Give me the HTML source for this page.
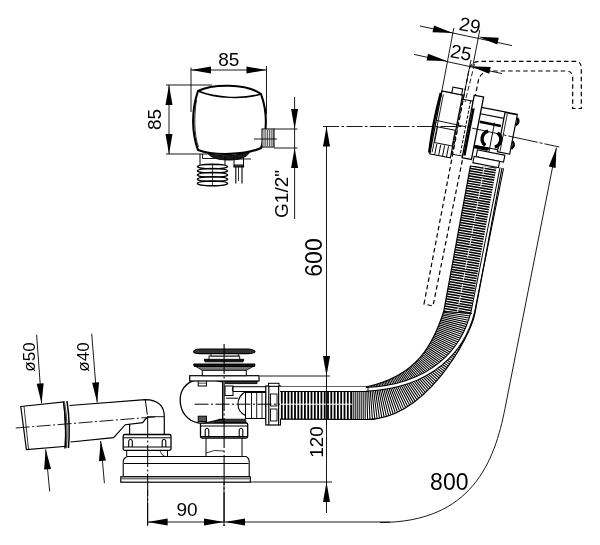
<!DOCTYPE html>
<html><head><meta charset="utf-8"><style>
html,body{margin:0;padding:0;background:#fff;}
svg{display:block;}
text{font-family:"Liberation Sans",sans-serif;fill:#000;stroke:none;-webkit-font-smoothing:antialiased;}
svg{will-change:transform;}
</style></head><body>
<svg width="600" height="545" viewBox="0 0 600 545" stroke="#000" fill="none" stroke-linecap="butt">
<rect x="0" y="0" width="600" height="545" fill="#fff" stroke="none"/>
<line x1="191" y1="67.5" x2="191" y2="112" stroke-width="0.9" />
<line x1="266.5" y1="66" x2="266.5" y2="114" stroke-width="0.9" />
<line x1="191" y1="70" x2="266.5" y2="70" stroke-width="0.9" />
<polygon points="191,70 211,73.5 211,66.5" fill="#000" stroke="none" stroke-width="1" />
<polygon points="266.5,70 246.5,66.5 246.5,73.5" fill="#000" stroke="none" stroke-width="1" />
<text transform="translate(228.7,65.8)" font-size="19" text-anchor="middle" >85</text>
<line x1="166" y1="85" x2="212" y2="85" stroke-width="0.9" />
<line x1="166" y1="154" x2="209" y2="154" stroke-width="0.9" />
<line x1="169" y1="85" x2="169" y2="154" stroke-width="0.9" />
<polygon points="169,85 165.5,105 172.5,105" fill="#000" stroke="none" stroke-width="1" />
<polygon points="169,154 172.5,134 165.5,134" fill="#000" stroke="none" stroke-width="1" />
<text transform="translate(161.4,119.5) rotate(-90)" font-size="19" text-anchor="middle" >85</text>
<path d="M198,91 C212,84 246,83 261,94 C267.5,112 267.5,132 261,148 C246,155 214,156 198,150 C191.5,132 191.5,110 198,91 Z" stroke-width="2.1" fill="#fff" />
<path d="M198,91 C216,98.5 244,99.5 261,94" stroke-width="1.5" fill="none" />
<path d="M196.5,100 C194,115 194,135 198.5,147" stroke-width="0.8" fill="none" />
<path d="M208,153.5 C220,157 238,156.5 250,151.5 C247,158 238,160 229,160 C219,160 211,158 208,153.5 Z" stroke-width="1" fill="#1a1a1a" />
<path d="M236,159 L251,159" stroke-width="0.9" fill="none" />
<line x1="200" y1="154" x2="200" y2="165" stroke-width="1" />
<line x1="225" y1="157" x2="225" y2="165" stroke-width="1" />
<path d="M202.5,154 L202.5,158.5 L215,158.5" stroke-width="0.9" fill="none" />
<path d="M197.5,166.6 Q197.5,164.5 212.5,164.2 Q227.5,164.5 227.5,166.6 Q227.5,168.7 212.5,168.9 Q197.5,168.7 197.5,166.6 Z" stroke-width="1.5" fill="#fff" />
<path d="M197.5,170.8 Q197.5,168.7 212.5,168.4 Q227.5,168.7 227.5,170.8 Q227.5,172.9 212.5,173.1 Q197.5,172.9 197.5,170.8 Z" stroke-width="1.5" fill="#fff" />
<path d="M197.5,175 Q197.5,172.9 212.5,172.6 Q227.5,172.9 227.5,175 Q227.5,177.1 212.5,177.3 Q197.5,177.1 197.5,175 Z" stroke-width="1.5" fill="#fff" />
<path d="M197.5,179.2 Q197.5,177.1 212.5,176.8 Q227.5,177.1 227.5,179.2 Q227.5,181.3 212.5,181.5 Q197.5,181.3 197.5,179.2 Z" stroke-width="1.5" fill="#fff" />
<path d="M197.5,183.4 Q197.5,181.3 212.5,181 Q227.5,181.3 227.5,183.4 Q227.5,185.5 212.5,185.7 Q197.5,185.5 197.5,183.4 Z" stroke-width="1.5" fill="#fff" />
<line x1="212.5" y1="164" x2="212.5" y2="186" stroke-width="0.7" />
<path d="M234,157 L234,165 L243.5,165 L243.5,157" stroke-width="1" fill="none" />
<path d="M234,165 L234,167 L243.5,167 L243.5,165" stroke-width="1.2" fill="#333" />
<line x1="235.8" y1="167" x2="235.8" y2="183.5" stroke-width="1.1" />
<line x1="242" y1="167" x2="242" y2="183.5" stroke-width="1.1" />
<line x1="238.5" y1="167" x2="238.5" y2="181" stroke-width="0.8" />
<rect x="262" y="129" width="12" height="18" fill="#fff" stroke-width="1.1"/>
<line x1="264" y1="130" x2="264" y2="146" stroke-width="0.7" />
<line x1="265.8" y1="130" x2="265.8" y2="146" stroke-width="0.7" />
<line x1="267.6" y1="130" x2="267.6" y2="146" stroke-width="0.7" />
<line x1="269.4" y1="130" x2="269.4" y2="146" stroke-width="0.7" />
<line x1="271.2" y1="130" x2="271.2" y2="146" stroke-width="0.7" />
<line x1="273" y1="130" x2="273" y2="146" stroke-width="0.7" />
<line x1="254" y1="139" x2="277" y2="139" stroke-width="0.9" />
<line x1="274" y1="129" x2="297.5" y2="129" stroke-width="0.9" />
<line x1="274" y1="148" x2="297.5" y2="148" stroke-width="0.9" />
<line x1="294.6" y1="97" x2="294.6" y2="219" stroke-width="0.9" />
<polygon points="294.6,129 298.1,109 291.1,109" fill="#000" stroke="none" stroke-width="1" />
<polygon points="294.6,148 291.1,168 298.1,168" fill="#000" stroke="none" stroke-width="1" />
<text transform="translate(288,194) rotate(-90)" font-size="19" text-anchor="middle" >G1/2&quot;</text>
<line x1="326.5" y1="126.5" x2="326.5" y2="376" stroke-width="0.9" />
<polygon points="326.5,126.5 323,146.5 330,146.5" fill="#000" stroke="none" stroke-width="1" />
<polygon points="326.5,376 330,356 323,356" fill="#000" stroke="none" stroke-width="1" />
<text transform="translate(322,257.5) rotate(-90)" font-size="23" text-anchor="middle" >600</text>
<line x1="260" y1="376" x2="330" y2="376" stroke-width="0.9" />
<line x1="326.5" y1="376" x2="326.5" y2="513" stroke-width="0.9" />
<line x1="250" y1="482" x2="332" y2="482" stroke-width="0.9" />
<polygon points="326.5,482 323,502 330,502" fill="#000" stroke="none" stroke-width="1" />
<text transform="translate(323,442) rotate(-90)" font-size="19" text-anchor="middle" >120</text>
<line x1="147.6" y1="490" x2="147.6" y2="526" stroke-width="0.9" />
<line x1="224" y1="470" x2="224" y2="526" stroke-width="0.9" />
<line x1="147.6" y1="522" x2="390" y2="522" stroke-width="0.9" />
<polygon points="147.6,522 167.6,525.5 167.6,518.5" fill="#000" stroke="none" stroke-width="1" />
<polygon points="224,522 204,518.5 204,525.5" fill="#000" stroke="none" stroke-width="1" />
<polygon points="225,522 245,525.5 245,518.5" fill="#000" stroke="none" stroke-width="1" />
<text transform="translate(187,516)" font-size="19" text-anchor="middle" >90</text>
<path d="M380,522.5 C472.4,522.5 494.7,460.7 505,408.5 L556.4,147.7" stroke-width="0.9" fill="none" />
<polygon points="556.4,147.7 548.79,166.52 555.64,167.99" fill="#000" stroke="none" stroke-width="1" />
<text transform="translate(449.3,489.5)" font-size="23" text-anchor="middle" >800</text>
<line x1="36.6" y1="334.6" x2="41.6" y2="403.4" stroke-width="0.9" />
<polygon points="41.6,403.4 43.64,383.2 36.66,383.71" fill="#000" stroke="none" stroke-width="1" />
<line x1="91.7" y1="333.7" x2="97.2" y2="402.5" stroke-width="0.9" />
<polygon points="97.2,402.5 99.1,382.28 92.12,382.84" fill="#000" stroke="none" stroke-width="1" />
<line x1="45.7" y1="449.3" x2="49.7" y2="491.5" stroke-width="0.9" />
<polygon points="45.7,449.3 44.1,469.54 51.07,468.88" fill="#000" stroke="none" stroke-width="1" />
<line x1="100.7" y1="441" x2="104.4" y2="483.2" stroke-width="0.9" />
<polygon points="100.7,441 98.96,461.23 105.93,460.62" fill="#000" stroke="none" stroke-width="1" />
<text transform="translate(34.8,357) rotate(-90)" font-size="17" text-anchor="middle" >ø50</text>
<text transform="translate(88.9,357) rotate(-90)" font-size="17" text-anchor="middle" >ø40</text>
<path d="M127.5,456.5 L246,456.5 Q249.2,458 249.2,462 L249.2,476.8 L123.2,476.8 L123.2,462 Q123.2,458 127.5,456.5 Z" stroke-width="1.1" fill="#fff" />
<line x1="124" y1="463.5" x2="248.5" y2="463.5" stroke-width="1" />
<rect x="120.8" y="476.8" width="129.5" height="5.4" rx="0" fill="#fff" stroke-width="1.2" />
<line x1="121.5" y1="478.8" x2="249.5" y2="478.8" stroke-width="0.8" />
<path d="M126.7,450 L126.7,456.5 M167.5,450 L167.5,456.5" stroke-width="1" fill="none" />
<path d="M160,451 Q162,456 165,456.5" stroke-width="0.8" fill="none" />
<path d="M206,438 L206,456.5 M242,438 L242,456.5" stroke-width="1" fill="none" />
<path d="M206,453 Q214,449 224,451" stroke-width="0.8" fill="none" />
<rect x="123.2" y="434.5" width="47.8" height="15.8" rx="1.5" fill="#fff" stroke-width="1.3" />
<line x1="123.5" y1="437.8" x2="170.5" y2="437.8" stroke-width="1" />
<line x1="123.5" y1="447" x2="170.5" y2="447" stroke-width="1" />
<path d="M128.7,447 L128.7,441 Q130.5,437.5 132.3,441 L132.3,447" stroke-width="1.1" fill="none" />
<path d="M162.2,447 L162.2,441 Q164,437.5 165.8,441 L165.8,447" stroke-width="1.1" fill="none" />
<rect x="200.5" y="423" width="47.2" height="15" rx="1.5" fill="#fff" stroke-width="1.3" />
<line x1="201" y1="426" x2="247.5" y2="426" stroke-width="1" />
<line x1="201" y1="436.5" x2="247.5" y2="436.5" stroke-width="1" />
<path d="M205.2,436.5 L205.2,430 Q207,426.5 208.8,430 L208.8,436.5" stroke-width="1.1" fill="none" />
<path d="M239.2,436.5 L239.2,430 Q241,426.5 242.8,430 L242.8,436.5" stroke-width="1.1" fill="none" />
<path d="M214.7,419.2 L245.5,419.2 L246,422.5 L214,422.5 Z" stroke-width="0.8" fill="#333" />
<path d="M199,379 C184,382 180,392 180.2,400.5 C180.2,410 186,421 199,423 C208,424 214,421 220,419.5 L222.7,419.5 L222.7,381.5 L220,381.5 C214,379.5 208,378.5 199,379 Z" stroke-width="1.3" fill="#fff" />
<rect x="198.2" y="380.5" width="8.3" height="5.5" rx="0" fill="#fff" stroke-width="1" />
<line x1="198.5" y1="383.2" x2="206.5" y2="383.2" stroke-width="0.7" />
<rect x="198.2" y="416.2" width="8.3" height="5.3" rx="0" fill="#555" stroke-width="1" />
<path d="M225,381 L257,381 L257,383.6 L225,383.6" stroke-width="0.9" fill="#333" />
<rect x="225" y="386" width="8" height="9.5" rx="0" fill="#fff" stroke-width="1" />
<line x1="226" y1="398.2" x2="238" y2="398.2" stroke-width="1" />
<rect x="189.7" y="375.7" width="69.3" height="5.3" rx="0" fill="#fff" stroke-width="1.2" />
<rect x="202.3" y="370" width="44" height="5.7" rx="0" fill="#fff" stroke-width="1" />
<path d="M195,366 L254,366 L246.3,370.3 L202.3,370.3 Z" stroke-width="0.8" fill="#777" />
<path d="M193.7,364 L255,364 L254.5,366.5 L194.2,366.5 Z" stroke-width="1" fill="#111" />
<path d="M204.3,359.3 L243.7,359.3 L243,361.8 L205,361.8 Z" stroke-width="1" fill="#111" />
<rect x="209" y="356" width="30.7" height="3.3" rx="0" fill="#fff" stroke-width="0.9" />
<rect x="211" y="353" width="27.3" height="3" rx="0" fill="#fff" stroke-width="0.9" />
<path d="M193.5,351.8 Q194,349.2 200,349 L248,349 Q254,349.2 255,351.8 Q254,353.6 248,353.6 L200,353.6 Q194,353.6 193.5,351.8 Z" stroke-width="1.1" fill="#333" />
<line x1="224.1" y1="344" x2="224.1" y2="526" stroke-width="1.1" stroke-dasharray="30 2.5 2 2.5"/>
<path d="M245.5,391.5 C240,395 238,400 238,404 C238,409 240,413 245.5,415.5" stroke-width="1.1" fill="#fff" />
<path d="M233,386.7 L368,386.7 M233,391.5 L368,391.5 M233,386.7 Q231.5,389.1 233,391.5" stroke-width="1" fill="none" />
<rect x="245.5" y="392.5" width="20.3" height="26" rx="0" fill="#fff" stroke-width="1" />
<line x1="251.5" y1="392.5" x2="251.5" y2="418.5" stroke-width="0.9" />
<line x1="256.7" y1="392.5" x2="256.7" y2="418.5" stroke-width="0.9" />
<line x1="262" y1="392.5" x2="262" y2="418.5" stroke-width="0.9" />
<rect x="265.8" y="386" width="14.6" height="39" rx="0" fill="#fff" stroke-width="1.2" />
<rect x="268.5" y="383.3" width="10.5" height="3" rx="0" fill="#fff" stroke-width="1" />
<line x1="268.8" y1="386" x2="268.8" y2="425" stroke-width="1.2" />
<line x1="278.5" y1="386" x2="278.5" y2="425" stroke-width="1" />
<rect x="270.5" y="394" width="6.5" height="12" rx="0" fill="#fff" stroke-width="0.9" />
<rect x="270.5" y="409" width="6.5" height="12" rx="0" fill="#fff" stroke-width="0.9" />
<line x1="283" y1="392" x2="283" y2="419" stroke-width="1.3" />
<line x1="194.5" y1="404.2" x2="360" y2="404.2" stroke-width="1" stroke-dasharray="14 2.5 2 2.5"/>
<path d="M20.8,406.5 L64,402 L66.5,446.3 L26.4,449.5 Z" stroke-width="1.2" fill="#fff" />
<line x1="24" y1="406.3" x2="28.5" y2="449.2" stroke-width="0.8" />
<path d="M63.5,401.5 Q67,424 65,448.5 M67,401 Q70.5,424 68.5,448" stroke-width="1.5" fill="none" />
<path d="M64.5,402 Q68.5,424 66.5,448" stroke-width="1.2" fill="none" stroke="#555"/>
<path d="M69.5,405.5 L145.3,399.6 Q164.3,400 164.3,416.7 L164.3,434.7 M129.6,434.7 L129.6,424.2 M70.5,442 L113.6,437.7 L125.3,424.7 L142.7,422.7 L145.3,419.3 L147,418" stroke-width="1.2" fill="none" />
<path d="M145.3,399.6 L147.3,414.7" stroke-width="1" fill="none" />
<line x1="147.5" y1="416.7" x2="164" y2="416.7" stroke-width="0.9" />
<line x1="15.7" y1="428" x2="157.3" y2="416.7" stroke-width="0.9" stroke-dasharray="14 2.5 2 2.5"/>
<line x1="147.7" y1="416" x2="147.7" y2="526" stroke-width="1" stroke-dasharray="22 2.5 2 2.5"/>
<defs>
<clipPath id="cbend"><path d="M443.7,311.5 C433.5,343.1 418.3,375.9 366,387 L366,391.5 L352,391.5 L352,419.5 L366,419.5 C425.5,419.5 470.4,337.7 475,313 Z"/></clipPath>
<clipPath id="cstr"><path d="M470.5,165.6 L496.5,167.4 L470.5,313 L443.7,311.5 Z"/></clipPath>
<clipPath id="chor"><path d="M280,391.5 L352,391.5 L352,419.2 L280,419.2 Z"/></clipPath>
</defs>
<path d="M470.5,165.6 L502,168 L475,313 C470.4,337.7 425.5,419.5 366,419.5 L280,419.2 L280,386.7 L366,386.7 L366,387 C418.3,375.9 433.5,343.1 443.7,311.5 Z" stroke-width="0.1" fill="#fff" stroke="none"/>
<g clip-path="url(#cstr)">
<path d="M485.5,150 L456.5,320" stroke-width="34" fill="none" stroke-dasharray="1.5 1.0"/>
<path d="M484.5,166 L457.5,312" stroke-width="0.9" fill="none" stroke="#fff" stroke-dasharray="9 3"/>
</g>
<g clip-path="url(#cbend)">
<path d="M460,300 L459.3,312 C455,350 420,403 366,403.5 L340,403.5" stroke-width="44" fill="none" stroke-dasharray="1.05 0.95"/>
</g>
<g clip-path="url(#chor)">
<path d="M352,405.8 L280,405.8" stroke-width="30" fill="none" stroke-dasharray="1.8 1.5"/>
<line x1="280" y1="404.2" x2="352" y2="404.2" stroke-width="1" stroke="#fff"/>
</g>
<path d="M501.8,168 L472.8,312 C463.3,350 432.2,386.3 366,389.4" stroke-width="4.6" fill="none" stroke="#000"/>
<path d="M501.8,168 L472.8,312 C463.3,350 432.2,386.3 366,389.4" stroke-width="2.6" fill="none" stroke="#fff"/>
<path d="M470.5,165.6 L443.7,311.5 C433.5,343.1 418.3,375.9 366,387" stroke-width="1.2" fill="none" />
<path d="M502,168 L475,313 C470.4,337.7 425.5,419.5 366,419.5 L280,419.2" stroke-width="1.2" fill="none" />
<line x1="443.7" y1="311.5" x2="472" y2="313.5" stroke-width="1.2" />
<line x1="280" y1="391.5" x2="368" y2="391.5" stroke-width="1" />
<line x1="368" y1="386.7" x2="368" y2="391.5" stroke-width="0.9" />
<path d="M424,304 L468.5,72 Q470,61.3 481,61.3 L575,61.3 Q581.3,61.3 581.3,68 L581.3,108.5 L572.7,108.5 L572.7,78 Q572.7,71 566,71 L492,71 Q481,71 478.5,80 L433,306 Z" stroke-width="1.2" fill="none" stroke-dasharray="4.5 3"/>
<g transform="rotate(11 470 125)">
<rect x="436" y="97" width="21" height="64" rx="0" fill="#fff" stroke-width="1.2" />
<rect x="446" y="91" width="10" height="6" rx="0" fill="#fff" stroke-width="1.1" />
<path d="M435.2,99 Q433,130 435.2,160" stroke-width="2.4" fill="none" />
<path d="M438,100 L438,159" stroke-width="0.8" fill="none" />
<rect x="438.5" y="133" width="18" height="16" rx="0" fill="#fff" stroke-width="0.9" />
<line x1="441" y1="150" x2="441" y2="161" stroke-width="0.9" />
<line x1="445" y1="150" x2="445" y2="161" stroke-width="0.9" />
<line x1="449" y1="150" x2="449" y2="161" stroke-width="0.9" />
<line x1="453" y1="150" x2="453" y2="161" stroke-width="0.9" />
<line x1="457" y1="101" x2="468.5" y2="101" stroke-width="1" />
<line x1="458" y1="99" x2="458" y2="157" stroke-width="1.1" stroke-dasharray="3.5 1.5"/>
<line x1="466" y1="101" x2="466" y2="157" stroke-width="0.9" stroke-dasharray="3.5 1.5"/>
<line x1="457" y1="157" x2="468.5" y2="157" stroke-width="1" />
<rect x="468.5" y="95" width="9.5" height="63.6" rx="0" fill="#fff" stroke-width="1.3" />
<path d="M470.3,108 L470.3,156" stroke-width="2.4" fill="none" />
<path d="M478,105.5 L514.5,105.5 M478,112 L502,112 M478,144 L502,144" stroke-width="1.1" fill="none" />
<path d="M479,120 L500.5,120" stroke-width="2.6" fill="none" />
<path d="M478,145 L493,145" stroke-width="2.4" fill="none" />
<rect x="502" y="106" width="12.5" height="40" rx="0" fill="#fff" stroke-width="1.2" />
<line x1="504.5" y1="107" x2="504.5" y2="145" stroke-width="0.8" />
<path d="M515,109 q3.5,3.5 0,7.5 M515,133 q3.5,3.5 0,7.5" stroke-width="2.4" fill="none" />
<path d="M489,127.5 A8,8 0 0 0 489,142 M498.5,127.5 A8,8 0 0 1 498.5,142" stroke-width="3.4" fill="none" />
<path d="M478.5,145.5 L492,145.5" stroke-width="3.2" fill="none" />
<line x1="493.7" y1="118" x2="493.7" y2="162" stroke-width="0.9" />
<rect x="482" y="148" width="28" height="7" rx="0" fill="#fff" stroke-width="1.1" />
<rect x="480" y="155" width="26" height="6.5" rx="0" fill="#fff" stroke-width="1.1" />
</g>
<line x1="323" y1="126.5" x2="462" y2="126.5" stroke-width="0.9" stroke-dasharray="16 2.5 2.5 2.5"/>
<line x1="436" y1="120.3" x2="559.3" y2="147" stroke-width="0.9" stroke-dasharray="30 2 3 2"/>
<line x1="420" y1="26" x2="512" y2="45.6" stroke-width="0.9" />
<polygon points="452.8,33 433.97,25.4 432.51,32.25" fill="#000" stroke="none" stroke-width="1" />
<polygon points="478.5,36.8 497.25,44.58 498.78,37.75" fill="#000" stroke="none" stroke-width="1" />
<line x1="414" y1="54.4" x2="502" y2="73.6" stroke-width="0.9" />
<polygon points="446.9,61 427.98,53.63 426.6,60.5" fill="#000" stroke="none" stroke-width="1" />
<polygon points="470.4,66.3 489.26,73.82 490.69,66.96" fill="#000" stroke="none" stroke-width="1" />
<line x1="453.8" y1="28" x2="440.3" y2="99.3" stroke-width="0.9" />
<line x1="479.8" y1="30" x2="472.8" y2="66" stroke-width="0.9" />
<line x1="471" y1="60" x2="462" y2="105" stroke-width="0.9" stroke-dasharray="12 2.5"/>
<line x1="474.5" y1="64" x2="465" y2="102" stroke-width="0.9" stroke-dasharray="5 2.5"/>
<g transform="rotate(11 465 30)">
<text transform="translate(469,31)" font-size="19" text-anchor="middle" >29</text>
</g>
<g transform="rotate(11 460 58)">
<text transform="translate(460,59)" font-size="19" text-anchor="middle" >25</text>
</g>
<line x1="326.5" y1="380" x2="326.5" y2="425" stroke-width="0.9" />
</svg></body></html>
